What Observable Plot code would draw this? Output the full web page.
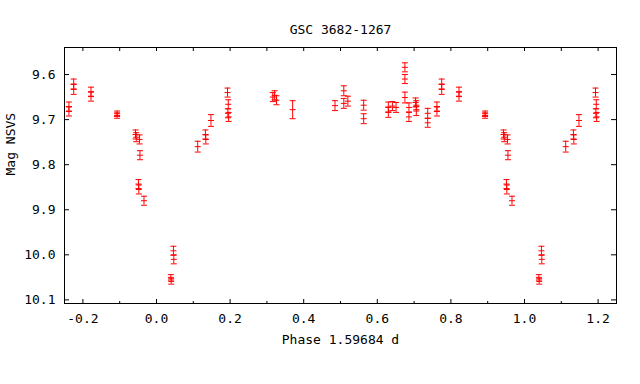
<!DOCTYPE html>
<html>
<head>
<meta charset="utf-8">
<script src="https://cdn.jsdelivr.net/npm/d3@7"></script>
<script src="https://cdn.jsdelivr.net/npm/@observablehq/plot@0.6"></script>
<style>
  html, body { margin: 0; padding: 0; background: #fff; }
  svg { display: block; }
</style>
</head>
<body>
<div id="chart"></div>
<script>
const title = "GSC 3682-1267";
const xLabel = "Phase 1.59684 d";
const yLabel = "Mag NSVS";

// Folded observations (phase in [0,1))
const phase = [0.039, 0.040, 0.046, 0.047, 0.112, 0.133, 0.134, 0.148, 0.193, 0.195, 0.194, 0.196,
  0.316, 0.321, 0.326, 0.370, 0.485, 0.509, 0.509, 0.520, 0.563, 0.563, 0.630, 0.630, 0.641, 0.651,
  0.675, 0.675, 0.675, 0.686, 0.686, 0.704, 0.706, 0.706, 0.737, 0.737, 0.762, 0.762, 0.775, 0.775,
  0.822, 0.822, 0.893, 0.893, 0.943, 0.945, 0.954, 0.955, 0.951, 0.952, 0.966];
const mag = [10.050, 10.059, 9.991, 10.010, 9.760, 9.733, 9.744, 9.702, 9.640, 9.666, 9.686, 9.694,
  9.650, 9.646, 9.657, 9.678, 9.669, 9.636, 9.664, 9.659, 9.668, 9.698, 9.672, 9.684, 9.670, 9.673,
  9.584, 9.610, 9.651, 9.673, 9.694, 9.662, 9.668, 9.681, 9.686, 9.707, 9.671, 9.682, 9.621, 9.633,
  9.638, 9.649, 9.687, 9.691, 9.733, 9.739, 9.744, 9.779, 9.843, 9.855, 9.880];
const err = [0.006, 0.006, 0.010, 0.010, 0.012, 0.010, 0.010, 0.013, 0.010, 0.010, 0.010, 0.010,
  0.010, 0.010, 0.010, 0.020, 0.011, 0.011, 0.011, 0.011, 0.011, 0.011, 0.011, 0.011, 0.010, 0.011,
  0.010, 0.010, 0.012, 0.010, 0.010, 0.010, 0.010, 0.010, 0.011, 0.010, 0.010, 0.010, 0.011, 0.011,
  0.010, 0.010, 0.006, 0.006, 0.010, 0.010, 0.010, 0.010, 0.010, 0.010, 0.010];

const xTicksMajor = [-0.2, 0.0, 0.2, 0.4, 0.6, 0.8, 1.0, 1.2];
const xTicksMinor = [-0.1, 0.1, 0.3, 0.5, 0.7, 0.9, 1.1];
const yTicks = [9.6, 9.7, 9.8, 9.9, 10.0, 10.1];

const xDomain = [-0.25, 1.25];
const yDomain = [9.54, 10.108];

// Phase-folded table, repeated one cycle either side within the plotted range
const base = phase.map((p, i) => ({phase: p, mag: mag[i], err: err[i]}));
const data = [];
for (const shift of [-1, 0, 1]) {
  for (const d of base) {
    const p = d.phase + shift;
    if (p >= xDomain[0] && p <= xDomain[1]) data.push({phase: p, mag: d.mag, err: d.err});
  }
}

const RED = "#ff0000";
const FONT = "DejaVu Sans Mono";
const hline = {
  draw(context, size) {
    const h = Math.sqrt(size / Math.PI);
    context.moveTo(-h, 0);
    context.lineTo(h, 0);
  }
};

const frameH = 384 - 47 - 81;

const plot = Plot.plot({
  width: 640,
  height: 384,
  marginLeft: 64,
  marginRight: 24,
  marginTop: 47,
  marginBottom: 81,
  style: {fontFamily: FONT, fontSize: "13px", color: "#000", background: "#fff"},
  x: {domain: xDomain},
  y: {domain: yDomain, reverse: true},
  marks: [
    // error bars
    Plot.ruleX(data, {x: "phase", y1: d => d.mag - d.err, y2: d => d.mag + d.err, stroke: RED, strokeWidth: 1}),
    Plot.dot(data, {x: "phase", y: d => d.mag - d.err, symbol: hline, r: 3, stroke: RED, strokeWidth: 1}),
    Plot.dot(data, {x: "phase", y: d => d.mag + d.err, symbol: hline, r: 3, stroke: RED, strokeWidth: 1}),
    Plot.dot(data, {x: "phase", y: "mag", symbol: hline, r: 3, stroke: RED, strokeWidth: 1}),
    // inward ticks
    Plot.tickX(xTicksMajor, {x: d => d, insetTop: frameH - 4, stroke: "#000"}),
    Plot.tickX(xTicksMinor, {x: d => d, insetTop: frameH - 2, stroke: "#000"}),
    Plot.tickX(xTicksMajor.concat(xTicksMinor), {x: d => d, insetBottom: frameH - 4, stroke: "#000"}),
    Plot.tickY(yTicks, {y: d => d, insetRight: 552 - 5, stroke: "#000"}),
    Plot.tickY(yTicks, {y: d => d, insetLeft: 552 - 5, stroke: "#000"}),
    Plot.frame({stroke: "#000", strokeWidth: 1}),
    // axes labels
    Plot.axisX({ticks: xTicksMajor, tickSize: 0, tickPadding: 10, tickFormat: d => d.toFixed(1), label: null, fontSize: 13}),
    Plot.axisY({ticks: yTicks, tickSize: 0, tickPadding: 9, tickFormat: d => d.toFixed(1), label: null, fontSize: 13}),
    Plot.text([xLabel], {text: d => d, frameAnchor: "bottom", dy: 40, fontSize: 13, fill: "#000"}),
    Plot.text([yLabel], {text: d => d, frameAnchor: "left", dx: -54, rotate: -90, fontSize: 13, fill: "#000"}),
    Plot.text([title], {text: d => d, frameAnchor: "top", dy: -23, fontSize: 13, fill: "#000"})
  ]
});
document.getElementById("chart").appendChild(plot);
</script>
</body>
</html>
